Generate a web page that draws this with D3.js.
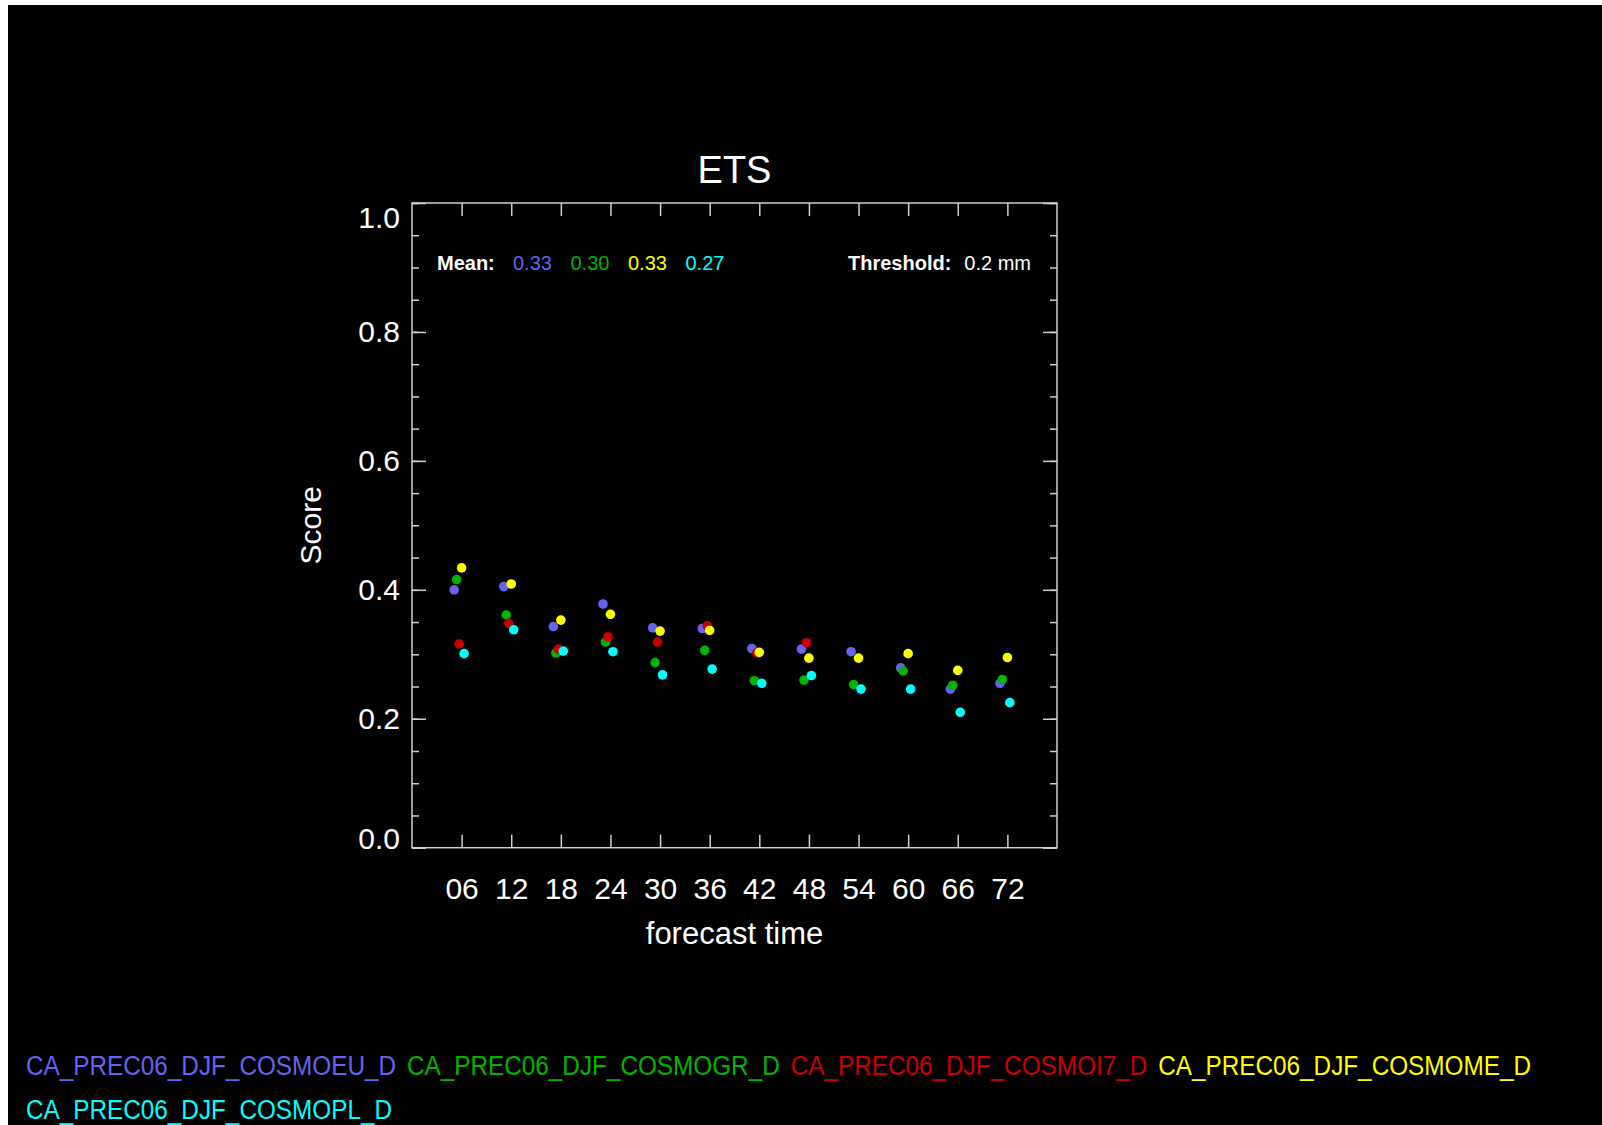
<!DOCTYPE html>
<html>
<head>
<meta charset="utf-8">
<script src="https://cdn.jsdelivr.net/npm/d3@7"></script>
<style>
  html, body { margin: 0; padding: 0; background: #fff; }
  svg { display: block; }
  text { font-family: "Liberation Sans", Arial, sans-serif; }
</style>
</head>
<body>
<svg id="chart" width="1602" height="1125"></svg>
<script>
// forecast lead times (hours)
var hours = ["06", "12", "18", "24", "30", "36", "42", "48", "54", "60", "66", "72"];

var seriesNames = ["CA_PREC06_DJF_COSMOEU_D", "CA_PREC06_DJF_COSMOGR_D",
                   "CA_PREC06_DJF_COSMOI7_D", "CA_PREC06_DJF_COSMOME_D",
                   "CA_PREC06_DJF_COSMOPL_D"];
var seriesColors = ["#6464f0", "#00b400", "#c80000", "#ffff00", "#00ffff"];

// ETS per lead time, one array per model
var etsEU = [0.400, 0.405, 0.343, 0.378, 0.341, 0.340, 0.309, 0.308, 0.304, 0.279, 0.246, 0.255];
var etsGR = [0.416, 0.361, 0.302, 0.319, 0.287, 0.306, 0.259, 0.260, 0.253, 0.274, 0.252, 0.261];
var etsI7 = [0.316, 0.348, 0.308, 0.327, 0.319, 0.344, 0.302, 0.318, null, null, null, null];
var etsME = [0.434, 0.409, 0.353, 0.362, 0.336, 0.337, 0.303, 0.294, 0.294, 0.301, 0.275, 0.295];
var etsPL = [0.301, 0.338, 0.305, 0.304, 0.268, 0.277, 0.255, 0.267, 0.246, 0.246, 0.210, 0.225];

// series that get a mean printed in the header (COSMOI7 is incomplete)
var meanSeries = [0, 1, 3, 4];

var yMajor = [0, 0.2, 0.4, 0.6, 0.8, 1.0];
var yMinor = d3.range(0, 1.0001, 0.05);

var allSeries = [etsEU, etsGR, etsI7, etsME, etsPL];

var svg = d3.select("#chart");

// white strip on the top/left edge, black canvas otherwise
svg.append("rect").attr("width", 1602).attr("height", 1125).attr("fill", "#fff");
svg.append("rect").attr("x", 8).attr("y", 5).attr("width", 1594).attr("height", 1120).attr("fill", "#000");

var margin = {left: 412, top: 203};
var plotW = 645, plotH = 644.7;
var axisColor = "#d0d0d0";

var g = svg.append("g").attr("transform", "translate(" + margin.left + "," + margin.top + ")");

var x = d3.scaleLinear().domain([0, hours.length + 1]).range([0, plotW]);
var y = d3.scaleLinear().domain([0, 1]).range([plotH, 0]);

function styleAxis(sel) {
  sel.select(".domain").remove();
  sel.selectAll("line").attr("stroke", axisColor).attr("stroke-width", 1.5);
  sel.selectAll("text").attr("fill", "#fff").attr("font-size", 30)
    .style("font-family", "'Liberation Sans', Arial, sans-serif");
}

var xTicks = hours.map(function(h, i) { return i + 1; });

// bottom axis with labels
g.append("g")
  .attr("transform", "translate(0," + plotH + ")")
  .call(d3.axisBottom(x).tickValues(xTicks).tickSize(-13).tickSizeOuter(0).tickPadding(30)
    .tickFormat(function(d) { return hours[d - 1]; }))
  .call(styleAxis);

// top axis, ticks only
g.append("g")
  .call(d3.axisTop(x).tickValues(xTicks).tickSize(-13).tickSizeOuter(0).tickFormat(""))
  .call(styleAxis);

// left axis; end labels are pulled inside the frame like the original
g.append("g")
  .call(d3.axisLeft(y).tickValues(yMajor).tickSize(-14).tickSizeOuter(0).tickPadding(12)
    .tickFormat(d3.format(".1f")))
  .call(styleAxis)
  .selectAll("text")
  .attr("dy", function(d) { return d === 1 ? "0.8em" : d === 0 ? "0.02em" : "0.32em"; });
g.append("g")
  .call(d3.axisLeft(y).tickValues(yMinor).tickSize(-7).tickSizeOuter(0).tickFormat(""))
  .call(styleAxis);

// right axis
g.append("g")
  .attr("transform", "translate(" + plotW + ",0)")
  .call(d3.axisRight(y).tickValues(yMajor).tickSize(-14).tickSizeOuter(0).tickFormat(""))
  .call(styleAxis);
g.append("g")
  .attr("transform", "translate(" + plotW + ",0)")
  .call(d3.axisRight(y).tickValues(yMinor).tickSize(-7).tickSizeOuter(0).tickFormat(""))
  .call(styleAxis);

// frame
g.append("rect")
  .attr("width", plotW).attr("height", plotH)
  .attr("fill", "none").attr("stroke", axisColor).attr("stroke-width", 1.5);

// points, offset slightly per model so they don't fully overlap
allSeries.forEach(function(vals, k) {
  var pts = vals.map(function(v, i) { return {i: i + 1, v: v}; })
                .filter(function(d) { return d.v != null; });
  g.append("g").selectAll("circle")
    .data(pts)
    .enter().append("circle")
    .attr("cx", function(d) { return x(d.i + (k - 3) * 0.05); })
    .attr("cy", function(d) { return y(d.v); })
    .attr("r", 4.8)
    .attr("fill", seriesColors[k]);
});

// title and axis titles
g.append("text")
  .attr("x", plotW / 2).attr("y", -20)
  .attr("text-anchor", "middle").attr("fill", "#fff").attr("font-size", 38)
  .text("ETS");

g.append("text")
  .attr("x", plotW / 2).attr("y", plotH + 96)
  .attr("text-anchor", "middle").attr("fill", "#fff").attr("font-size", 31)
  .text("forecast time");

g.append("text")
  .attr("transform", "translate(-91," + (plotH / 2) + ") rotate(-90)")
  .attr("text-anchor", "middle").attr("fill", "#fff").attr("font-size", 30)
  .text("Score");

// header: means and threshold
var header = g.append("g").attr("transform", "translate(0,67)");
header.append("text")
  .attr("x", 25).attr("fill", "#fff").attr("font-size", 20).attr("font-weight", "bold")
  .text("Mean:");
meanSeries.forEach(function(k, j) {
  var m = d3.mean(allSeries[k].filter(function(v) { return v != null; }));
  header.append("text")
    .attr("x", 101 + j * 57.5).attr("fill", seriesColors[k]).attr("font-size", 20)
    .text(d3.format(".2f")(m));
});
header.append("text")
  .attr("x", 436).attr("fill", "#fff").attr("font-size", 20).attr("font-weight", "bold")
  .text("Threshold:");
header.append("text")
  .attr("x", plotW - 26).attr("text-anchor", "end").attr("fill", "#fff").attr("font-size", 20)
  .text("0.2 mm");

// legend along the bottom, wraps like the original
var legend = svg.append("g");
var lx = 26, ly = 1075, rowH = 44, maxX = 1560, squeeze = 0.9;
seriesNames.forEach(function(name, k) {
  var t = legend.append("text")
    .attr("fill", seriesColors[k]).attr("font-size", 27)
    .text(name);
  var w = t.node().getComputedTextLength() * squeeze;
  if (lx + w > maxX) { lx = 26; ly += rowH; }
  t.attr("x", lx).attr("y", ly)
   .attr("textLength", w).attr("lengthAdjust", "spacingAndGlyphs");
  lx += w + 11;
});
</script>
</body>
</html>
